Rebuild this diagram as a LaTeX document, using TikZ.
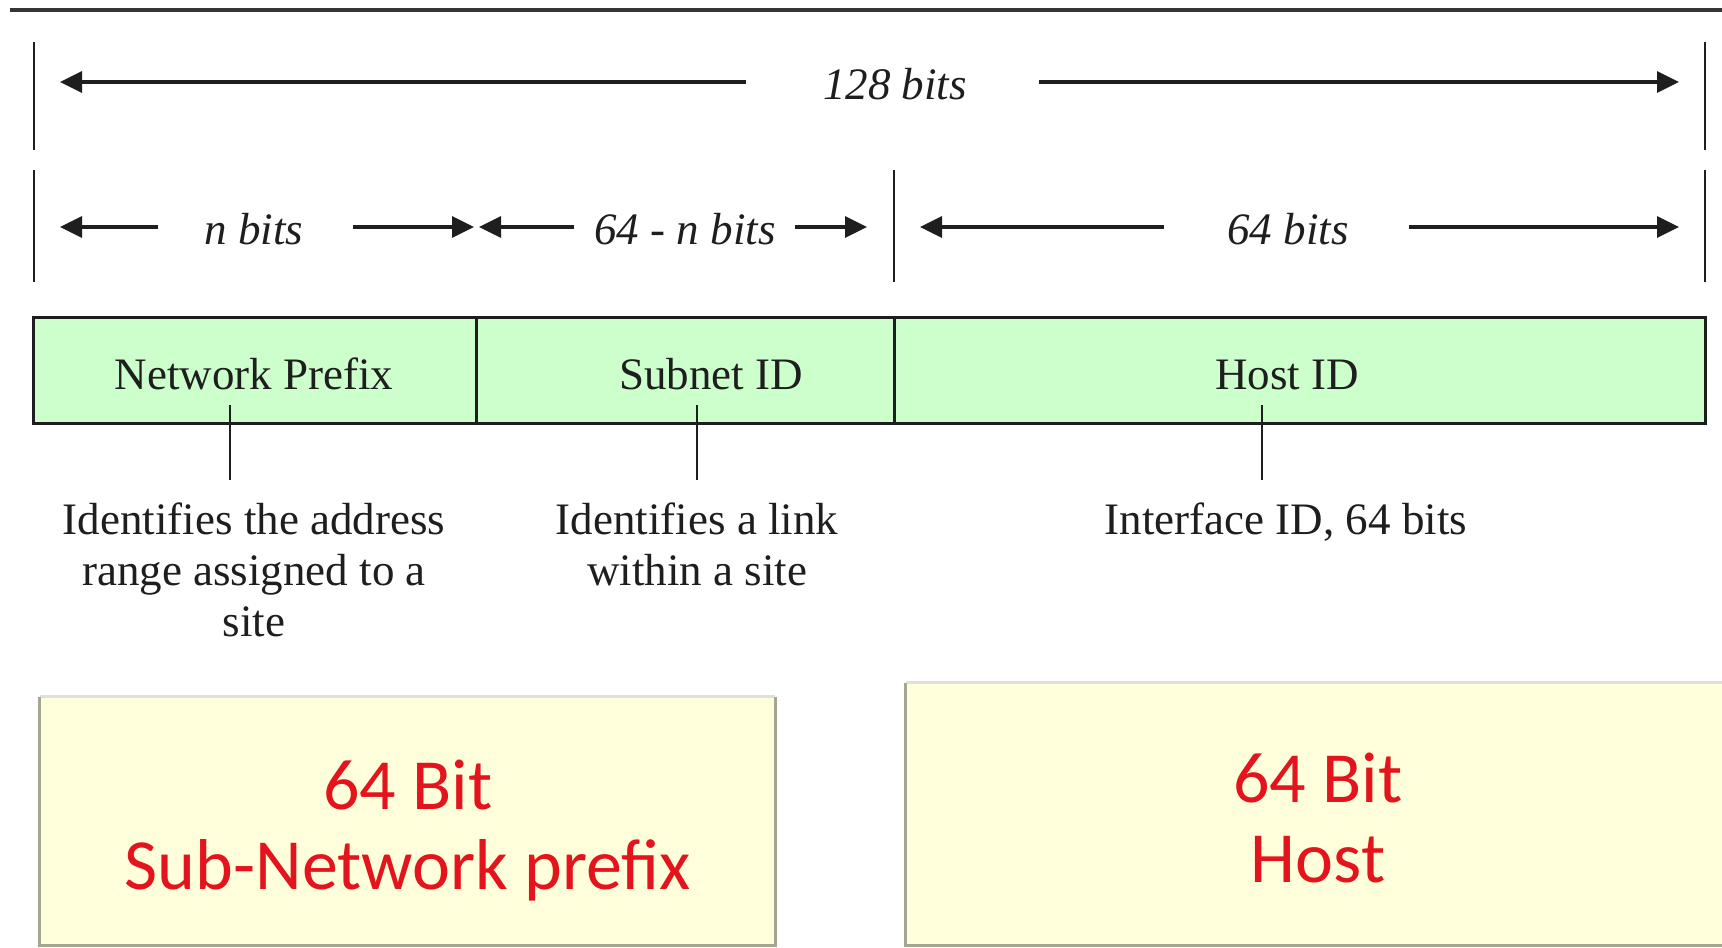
\documentclass[tikz,border=0pt]{standalone}
\usepackage{fontspec}
\setmainfont{Liberation Serif}
\newfontfamily\carfont{Carlito}
\usetikzlibrary{arrows.meta}
\definecolor{barfill}{HTML}{CCFFCC}
\definecolor{boxfill}{HTML}{FFFFDB}
\definecolor{boxedge}{HTML}{A4A68F}
\definecolor{redtxt}{HTML}{E3141C}
\definecolor{ink}{HTML}{1E1E1E}
\begin{document}
\begin{tikzpicture}[x=0.5pt,y=-0.5pt,
  rulestyle/.style={draw=ink!90, line width=1.6pt},
  tick/.style={draw=ink, line width=1pt},
  dimarrow/.style={draw=ink, line width=1.7pt, -{Triangle[length=11pt,width=10.5pt]}},
  dimlbl/.style={font=\fontsize{22.5}{26}\selectfont\itshape, inner sep=0pt, anchor=base, text=ink},
  seg/.style={draw=ink, line width=1.5pt, fill=barfill, minimum height=53pt, inner sep=0pt},
  segtxt/.style={font=\fontsize{22.5}{26}\selectfont, inner sep=0pt, anchor=base, text=ink},
  callout/.style={draw=ink, line width=1pt},
  desc/.style={font=\fontsize{22.5}{25.5}\selectfont, align=center, inner sep=0pt, anchor=north, text=ink},
  ybox/.style={fill=boxfill, inner sep=0pt},
  boxline/.style={draw=boxedge, line width=1.5pt},
  boxtop/.style={draw=boxedge!35, line width=1.2pt},
  redlbl/.style={font=\carfont\fontsize{36}{40}\selectfont, text=redtxt, align=center, inner sep=0pt, anchor=north}
]
\useasboundingbox (0,0) rectangle (1722,947);
\clip (0,0) rectangle (1722,947);
\fill[white] (0,0) rectangle (1722,947);

% top rule
\coordinate (r1) at (10,10);
\coordinate (r2) at (1722,10);
\draw[rulestyle] (r1) -- (r2);

% ticks
\coordinate (t1a) at (34,42);   \coordinate (t1b) at (34,150);
\coordinate (t2a) at (1705,42); \coordinate (t2b) at (1705,150);
\coordinate (t3a) at (34,170);  \coordinate (t3b) at (34,282);
\coordinate (t4a) at (894,170); \coordinate (t4b) at (894,282);
\coordinate (t5a) at (1705,170);\coordinate (t5b) at (1705,282);
\draw[tick] (t1a) -- (t1b);
\draw[tick] (t2a) -- (t2b);
\draw[tick] (t3a) -- (t3b);
\draw[tick] (t4a) -- (t4b);
\draw[tick] (t5a) -- (t5b);

% dimension labels
\node[dimlbl] (l128) at (895,100) {128 bits};
\node[dimlbl] (ln) at (254,244) {n bits};
\node[dimlbl] (l64n) at (685,244) {64 - n bits};
\node[dimlbl] (l64) at (1288,244) {64 bits};

% dimension arrows
\coordinate (a1s) at (746,82);  \coordinate (a1t) at (60,82);
\coordinate (a2s) at (1039,82); \coordinate (a2t) at (1679,82);
\coordinate (a3s) at (158,227); \coordinate (a3t) at (60,227);
\coordinate (a4s) at (353,227); \coordinate (a4t) at (474,227);
\coordinate (a5s) at (574,227); \coordinate (a5t) at (479,227);
\coordinate (a6s) at (795,227); \coordinate (a6t) at (867,227);
\coordinate (a7s) at (1164,227);\coordinate (a7t) at (920,227);
\coordinate (a8s) at (1409,227);\coordinate (a8t) at (1679,227);
\draw[dimarrow] (a1s) -- (a1t);
\draw[dimarrow] (a2s) -- (a2t);
\draw[dimarrow] (a3s) -- (a3t);
\draw[dimarrow] (a4s) -- (a4t);
\draw[dimarrow] (a5s) -- (a5t);
\draw[dimarrow] (a6s) -- (a6t);
\draw[dimarrow] (a7s) -- (a7t);
\draw[dimarrow] (a8s) -- (a8t);

% address bar
\node[seg, minimum width=221.5pt] (np) at (254.5,370) {};
\node[seg, minimum width=209pt] (sid) at (685,370) {};
\node[seg, minimum width=405.5pt] (hid) at (1299.5,370) {};
\node[segtxt] (npt) at (254,389) {Network Prefix};
\node[segtxt] (sidt) at (711,389) {Subnet ID};
\node[segtxt] (hidt) at (1287,389) {Host ID};

% callouts
\coordinate (c1a) at (230,405);  \coordinate (c1b) at (230,480);
\coordinate (c2a) at (697,405);  \coordinate (c2b) at (697,480);
\coordinate (c3a) at (1262,405); \coordinate (c3b) at (1262,480);
\draw[callout] (c1a) -- (c1b);
\draw[callout] (c2a) -- (c2b);
\draw[callout] (c3a) -- (c3b);

\node[desc] (d1) at (254,502) {Identifies the address\\range assigned to a\\site};
\node[desc] (d2) at (697,502) {Identifies a link\\within a site};
\node[desc] (d3) at (1286,502) {Interface ID, 64 bits};

% yellow boxes
\node[ybox, minimum width=367.5pt, minimum height=124pt] (lb) at (407.5,821) {};
\node[ybox, minimum width=417pt, minimum height=131pt] (rb) at (1323,814) {};
\draw[boxtop] (lb.north west) -- (lb.north east);
\draw[boxline] (lb.north west) -- (lb.south west) -- (lb.south east) -- (lb.north east);
\draw[boxtop] (rb.north west) -- (rb.north east);
\draw[boxline] (rb.north west) -- (rb.south west) -- (rb.south east);

\node[redlbl] (lbt) at (408,760) {64 Bit\\Sub-Network prefix};
\node[redlbl] (rbt) at (1318,753) {64 Bit\\Host};
\end{tikzpicture}
\end{document}
